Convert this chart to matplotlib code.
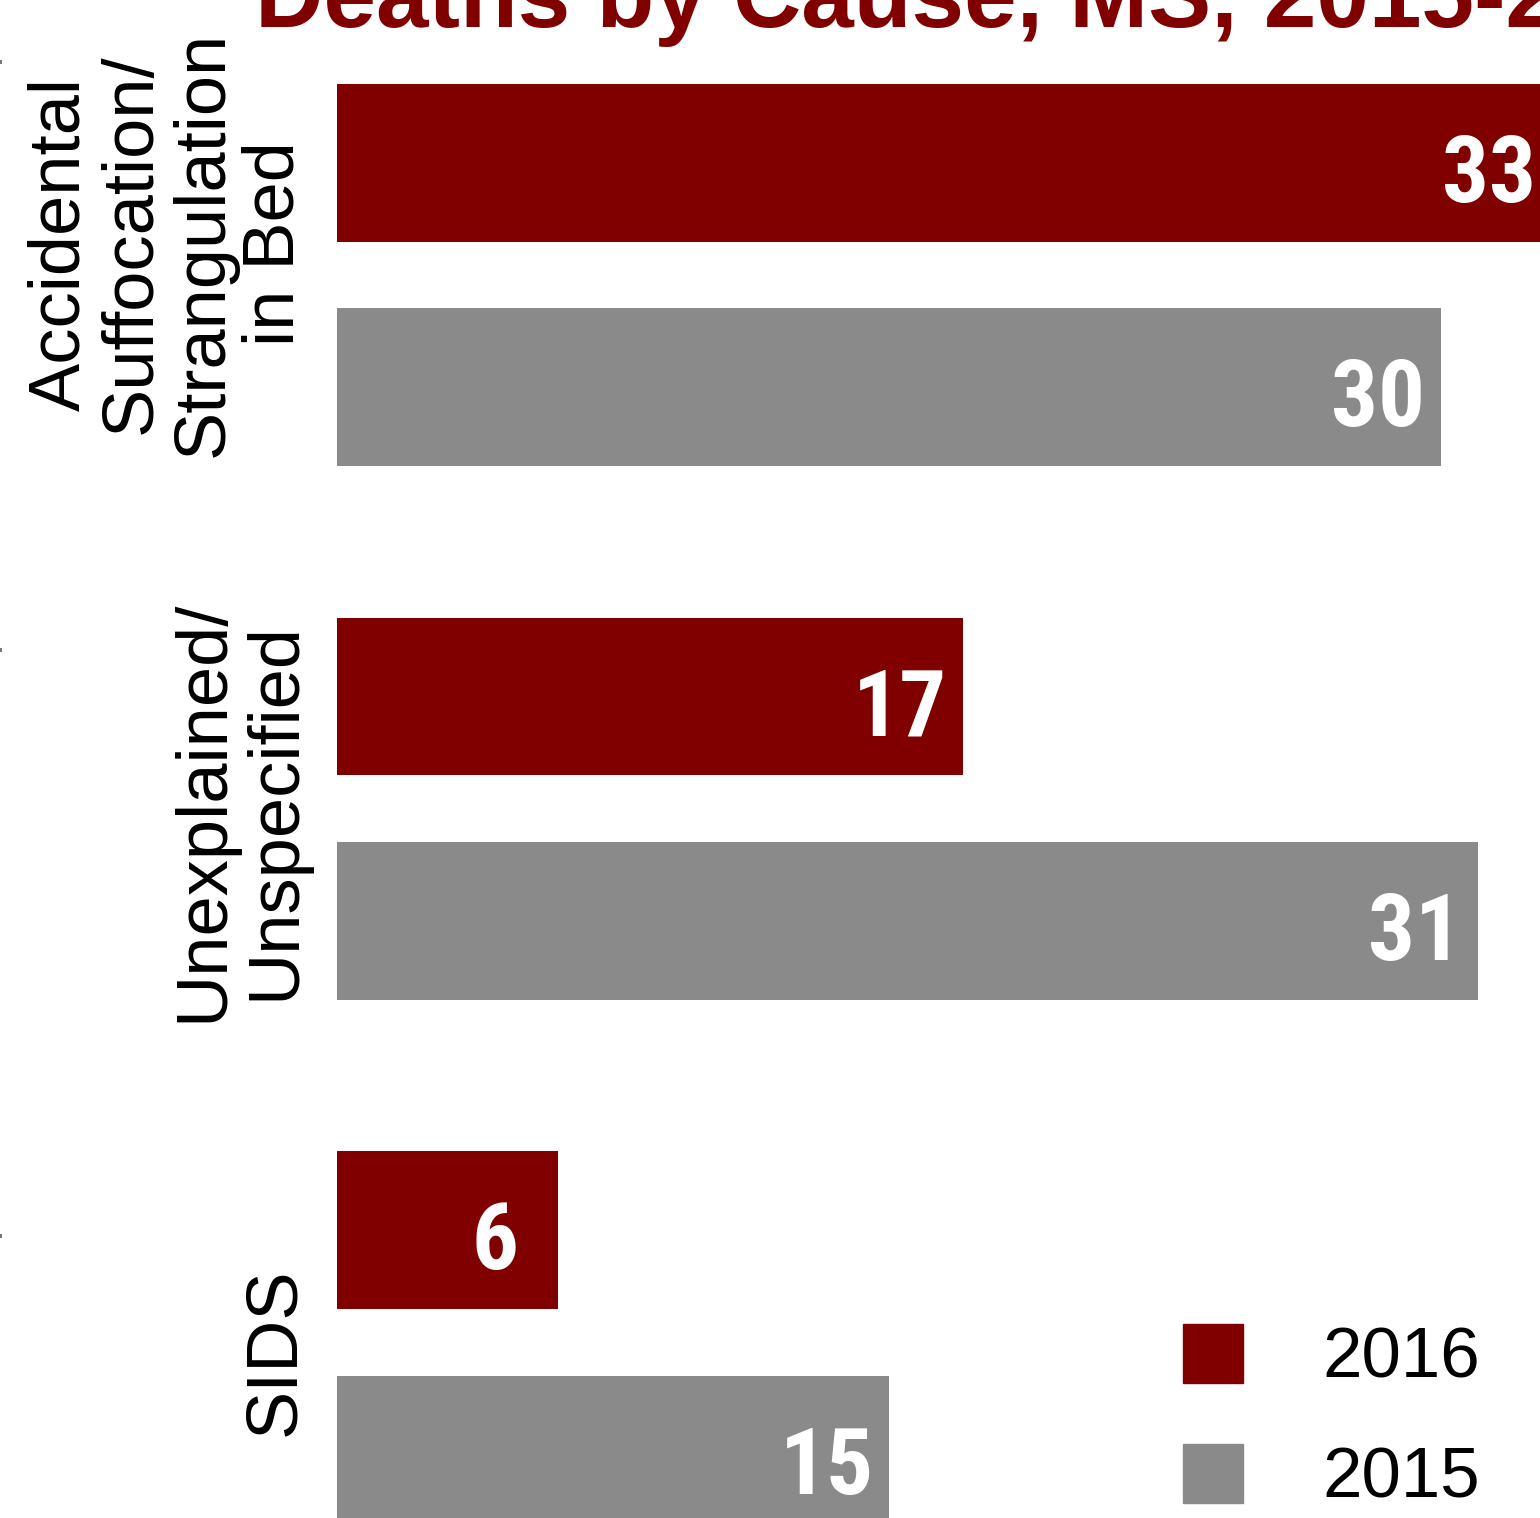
import matplotlib
matplotlib.use("Agg")
import matplotlib.pyplot as plt
from matplotlib.patches import Patch, Rectangle

# Data
causes = ["Accidental\nSuffocation/\nStrangulation\nin Bed",
          "Unexplained/\nUnspecified",
          "SIDS"]
deaths_2016 = [33, 17, 6]
deaths_2015 = [30, 31, 15]
years = ["2016", "2015"]
title = "Deaths by Cause, MS, 2015-2016"

RED = "#800000"
GREY = "#8a8a8a"

W, H = 1540, 1518
fig = plt.figure(figsize=(W / 100, H / 100), dpi=100)

ax_left = 337 / W
ax = fig.add_axes([ax_left, 0, 1 - ax_left, 1])
ax.set_xlim(0, (W - 337) / 36.8)
ax.set_ylim(2.3288, -0.5152)

bar_h = 0.296
off = 0.2103
ys = list(range(len(causes)))
ax.barh([y - off for y in ys], deaths_2016, height=bar_h, color=RED, clip_on=False)
ax.barh([y + off for y in ys], deaths_2015, height=bar_h, color=GREY, clip_on=False)

num_font = dict(family=["Liberation Sans Narrow", "Roboto Condensed", "Liberation Sans"],
                weight="bold", fontsize=67, color="white", ha="center", va="center")
for y, v in zip(ys, deaths_2016):
    ax.text(v - 1.7, y - off + 0.025, str(v), clip_on=False, **num_font)
for y, v in zip(ys, deaths_2015):
    ax.text(v - 1.7, y + off + 0.025, str(v), clip_on=False, **num_font)

# category labels, rotated, to the left of the bars
label_nudge = [-31, 2, 9]
for y, lab, dy in zip(ys, causes, label_nudge):
    ax.annotate(lab, xy=(0, y), xycoords=("axes fraction", "data"),
                xytext=(-28, -dy), textcoords="offset pixels",
                rotation=90, ha="right", va="center", multialignment="center",
                fontsize=52, family="Liberation Sans", linespacing=1.09,
                annotation_clip=False)

ax.set_yticks([])
ax.set_xticks([])
for s in ax.spines.values():
    s.set_visible(False)

fig.text(255 / W, 1 - 27 / H, title, ha="left", va="baseline",
         fontsize=68, fontweight="bold", color=RED, family="Liberation Sans")

handles = [Patch(color=RED), Patch(color=GREY)]
fig.legend(handles, years, loc="upper left",
           bbox_to_anchor=(1183 / W, 1 - 1324 / H),
           frameon=False, prop=dict(family="Liberation Sans", size=51),
           handlelength=0.84, handleheight=0.9, handletextpad=1.13,
           labelspacing=0.72, borderpad=0, borderaxespad=0)

# small axis ticks along the left edge
for yp in (62, 650, 1236):
    fig.add_artist(Rectangle((0, 1 - (yp + 2) / H), 2 / W, 4 / H,
                             transform=fig.transFigure, color="#777777", lw=0))

fig.savefig("out.png", dpi=100)
